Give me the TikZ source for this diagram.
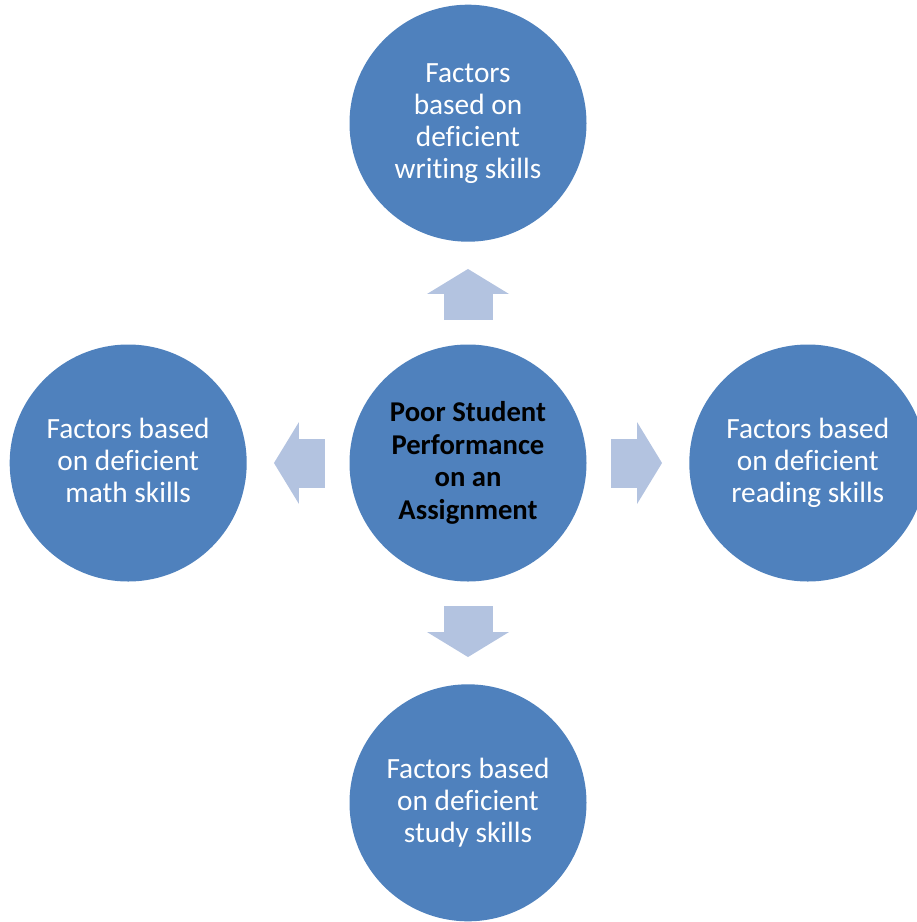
\documentclass[tikz,border=0pt]{standalone}
\usepackage{fontspec}
\setmainfont{Carlito}[Ligatures=NoCommon]
\usetikzlibrary{positioning,arrows.meta}
\definecolor{disc}{HTML}{4F81BD}
\definecolor{pale}{HTML}{B3C3E0}
% invisible rule so every label box has the same top and bottom
\newcommand\linepad{\rule[-0.15\baselineskip]{0pt}{0.8\baselineskip}}

\begin{document}
\begin{tikzpicture}[x=0.75pt,y=-0.75pt,node distance=76.7pt,
  factor/.style={circle,fill=disc,minimum size=177.75pt,inner sep=0pt,align=center,text=white,font=\fontsize{22}{24}\selectfont,execute at begin node=\linepad,execute at end node=\linepad},
  push/.style={pale,line width=36.75pt,shorten <=18.4pt,shorten >=20.25pt,-{Triangle[length=18.75pt,width=61.5pt,line width=0pt]}}]
  \path[use as bounding box,clip] (0,0) rectangle (917,922);
  % the problem in the middle, four groups of causes round it
  \node[factor,text=black,font=\fontsize{21.5}{24.5}\selectfont\bfseries] (core) at (468,463) {Poor Student\\Performance\\on an\\Assignment};
  \node[factor,above=of core] (writing) {Factors\\based on\\deficient\\writing skills};
  \node[factor,left=of core] (math) {Factors based\\on deficient\\math skills};
  \node[factor,right=of core] (reading) {Factors based\\on deficient\\reading skills};
  \node[factor,below=of core] (study) {Factors based\\on deficient\\study skills};
  % block arrows pointing outwards
  \draw[push] (core) -- (writing);
  \draw[push] (core) -- (math);
  \draw[push] (core) -- (reading);
  \draw[push] (core) -- (study);
\end{tikzpicture}
\end{document}
